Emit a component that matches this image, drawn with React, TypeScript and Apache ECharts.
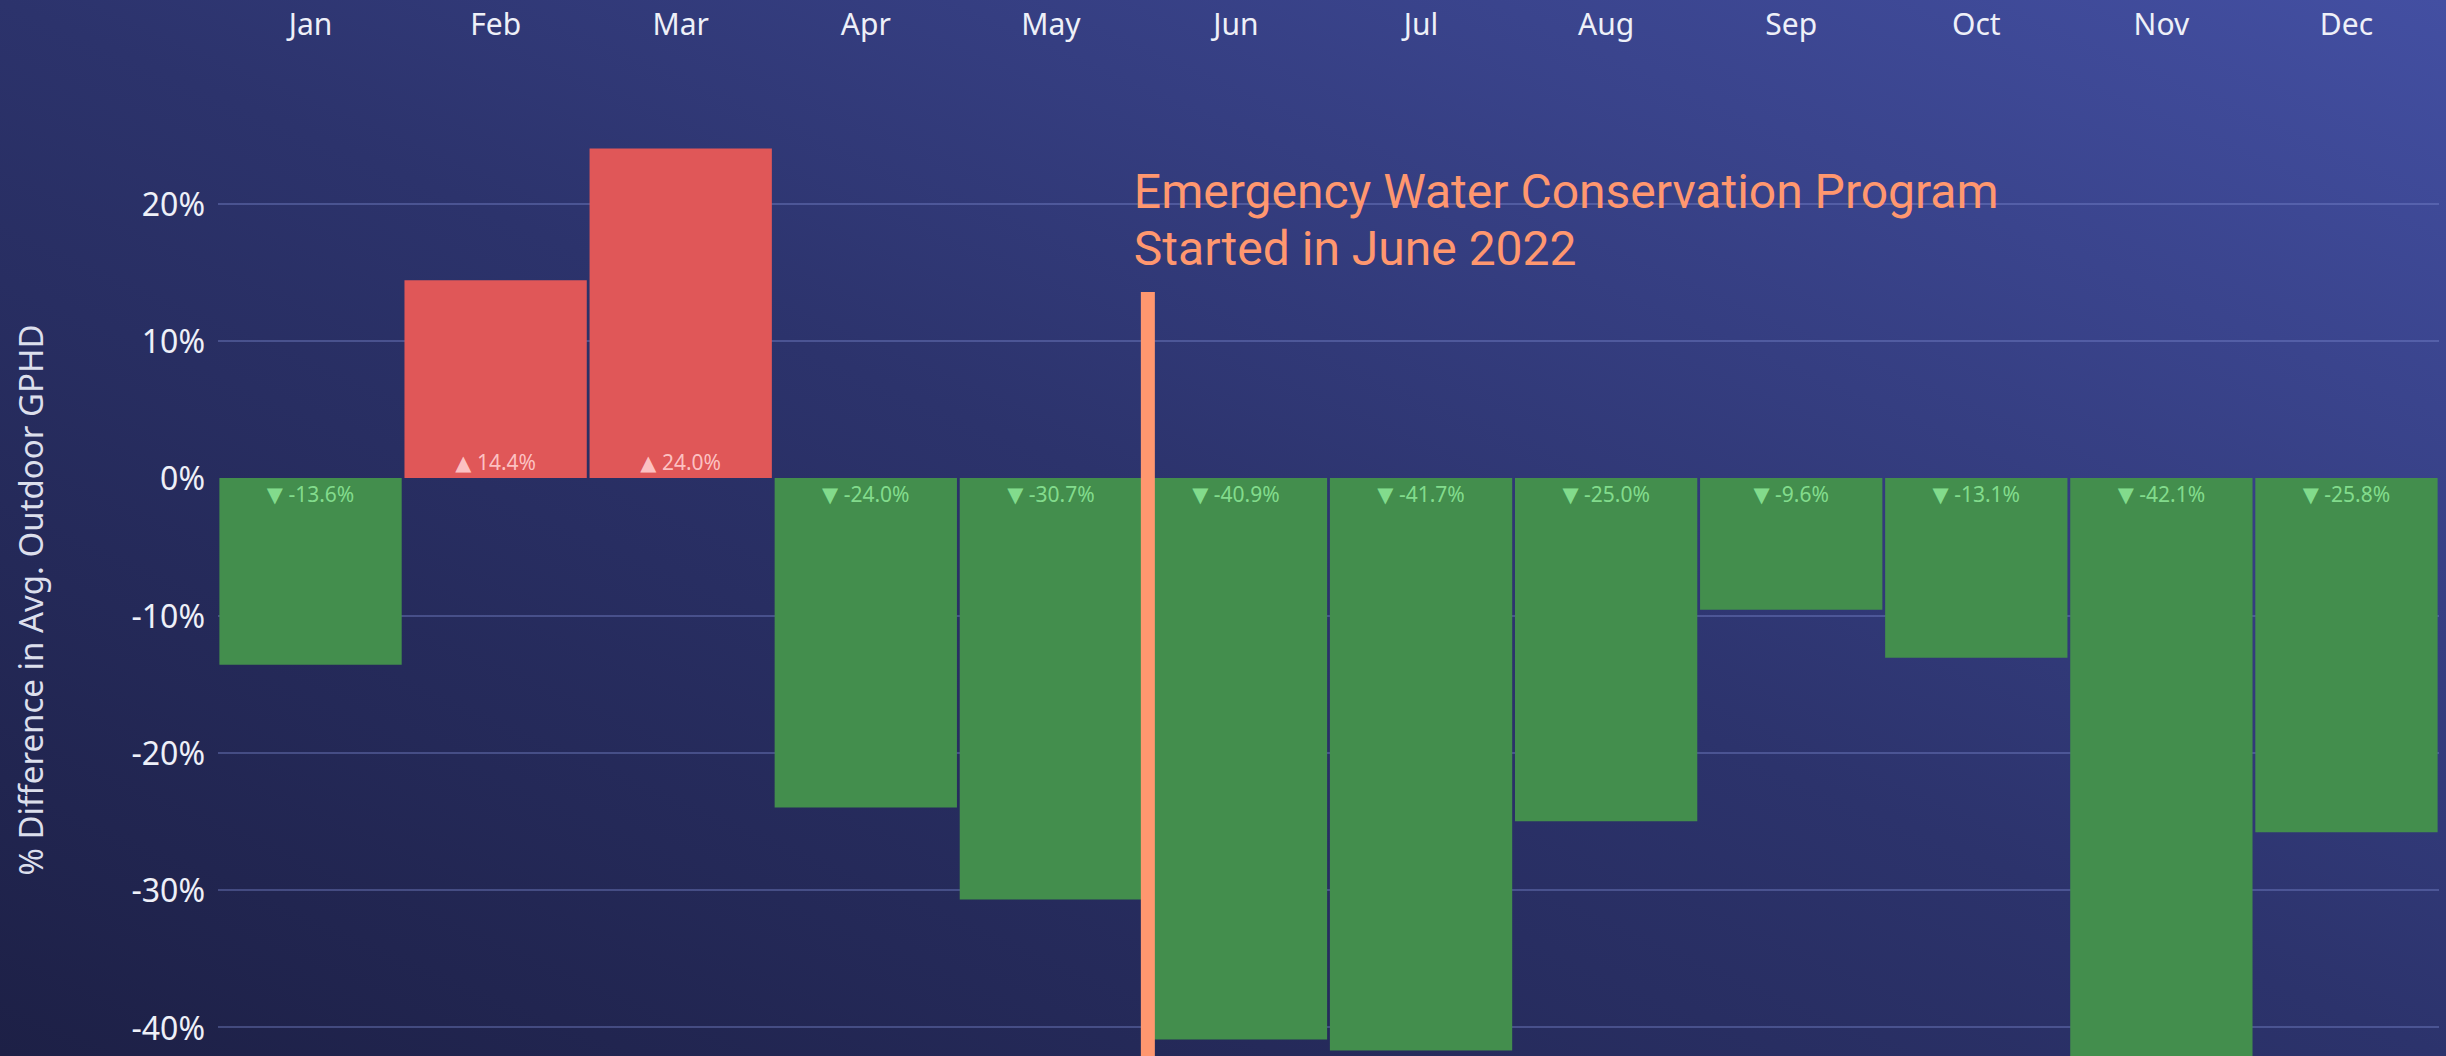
import React, { useEffect, useRef } from "react";
import * as echarts from "echarts";

const months = ["Jan", "Feb", "Mar", "Apr", "May", "Jun", "Jul", "Aug", "Sep", "Oct", "Nov", "Dec"];
const pctDiff = [-13.6, 14.4, 24.0, -24.0, -30.7, -40.9, -41.7, -25.0, -9.6, -13.1, -42.1, -25.8];
const yLabelValues = [-40, -30, -20, -10, 0, 10, 20];
const yGridValues = [-40, -30, -20, -10, 10, 20];
const yTitle = "% Difference in Avg. Outdoor GPHD";
const annotationText = "Emergency Water Conservation Program\nStarted in June 2022";
const programStartMonth = "Jun";

const RED = "#E05758";
const GREEN = "#438E4D";
const ORANGE = "#FF976F";
const TEXT = "#EEF0F8";

export default function App() {
  const ref = useRef<HTMLDivElement>(null);

  useEffect(() => {
    document.body.style.margin = "0";
    const el = ref.current!;
    const chart = echarts.init(el, undefined, { renderer: "svg" });

    const data = pctDiff.map((v) => {
      const pos = v >= 0;
      return {
        value: v,
        itemStyle: { color: pos ? RED : GREEN },
        label: {
          show: true,
          position: pos ? "insideBottom" : "insideTop",
          distance: pos ? 5 : 6,
          color: pos ? "rgba(255,205,205,0.92)" : "rgba(140,230,150,0.9)",
          fontSize: 21,
          fontFamily: "Noto Sans, DejaVu Sans",
          formatter: (pos ? "▲ " : "▼ ") + v.toFixed(1) + "%",
        },
      };
    });

    chart.setOption({
      animation: false,
      backgroundColor: new echarts.graphic.LinearGradient(0, 1, 1, 0, [
        { offset: 0, color: "#1D2046" },
        { offset: 0.5, color: "#2C336C" },
        { offset: 1, color: "#434FA2" },
      ]),
      grid: { left: 218, right: 7, top: 100, bottom: 0, containLabel: false },
      xAxis: {
        type: "category",
        data: months,
        position: "top",
        axisLine: { show: false, onZero: false },
        axisTick: { show: false },
        axisLabel: {
          color: TEXT,
          fontSize: 30,
          fontFamily: "Noto Sans",
          margin: 62,
        },
      },
      yAxis: {
        type: "value",
        min: -42.1,
        max: 27.53,
        axisLine: { show: false },
        axisTick: { show: false, customValues: yGridValues },
        axisLabel: {
          customValues: yLabelValues,
          color: TEXT,
          fontSize: 32,
          fontFamily: "Noto Sans",
          margin: 13,
          formatter: (v: number) => Math.round(v) + "%",
        },
        splitLine: {
          show: true,
          lineStyle: { color: "rgba(125,140,210,0.38)", width: 2 },
        },
      },
      series: [
        {
          type: "bar",
          data,
          barCategoryGap: "1.5%",
          z: 2,
        },
      ],
    });

    const xJun = chart.convertToPixel({ xAxisIndex: 0 }, programStartMonth) as number;
    const xJul = chart.convertToPixel({ xAxisIndex: 0 }, "Jul") as number;
    const band = xJul - xJun;
    const lineX = xJun - band * 0.476;

    chart.setOption({
      graphic: [
        {
          id: "startLine",
          type: "rect",
          z: 100,
          shape: { x: lineX - 7, y: 292, width: 14, height: 800 },
          style: { fill: ORANGE },
        },
        {
          id: "annot",
          type: "text",
          z: 100,
          x: lineX - 14,
          y: 163,
          style: {
            text: annotationText,
            fill: ORANGE,
            fontSize: 48,
            fontFamily: "Roboto",
            lineHeight: 57,
            align: "left",
            verticalAlign: "top",
          },
        },
        {
          id: "ytitle",
          type: "text",
          z: 100,
          x: 30,
          y: 600,
          rotation: Math.PI / 2,
          style: {
            text: yTitle,
            fill: "#DCDFEC",
            fontSize: 33,
            fontFamily: "Noto Sans",
            align: "center",
            verticalAlign: "middle",
          },
        },
      ],
    });

    return () => chart.dispose();
  }, []);

  return (
    <div
      ref={ref}
      style={{ position: "absolute", left: 0, top: 0, width: 2446, height: 1056 }}
    />
  );
}
